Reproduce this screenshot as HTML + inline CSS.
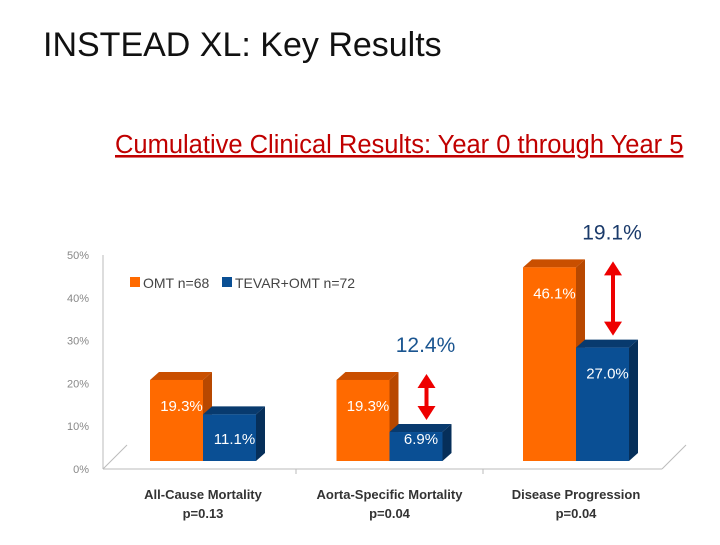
<!DOCTYPE html>
<html><head><meta charset="utf-8"><style>
body{margin:0;background:#fff;width:720px;height:540px;overflow:hidden;font-family:"Liberation Sans",sans-serif}
</style></head><body>
<svg width="720" height="540" viewBox="0 0 720 540" xmlns="http://www.w3.org/2000/svg">
<text x="43" y="56" font-size="34" fill="#111">INSTEAD XL:  Key Results</text>
<text x="115" y="153" font-size="25.5" fill="#c00000" text-decoration="underline">Cumulative Clinical Results: Year 0 through Year 5</text>
<g id="axes"></g>
<g id="bars"></g>
<g>
<rect x="130" y="277" width="10" height="10" fill="#ff6a00"/>
<text x="143" y="288" font-size="14" fill="#444">OMT n=68</text>
<rect x="222" y="277" width="10" height="10" fill="#0a4f94"/>
<text x="235" y="288" font-size="14" fill="#444">TEVAR+OMT n=72</text>
</g>
<g id="ann"></g>
</svg>
<script>
const categories=["All-Cause Mortality","Aorta-Specific Mortality","Disease Progression"];
const pvalues=["p=0.13","p=0.04","p=0.04"];
const omt=[19.3,19.3,46.1];
const tevar=[11.1,6.9,27.0];
const ticks=[0,10,20,30,40,50];
const diffs=[null,"12.4%","19.1%"];
const NS="http://www.w3.org/2000/svg";
const base=461, per=4.2, axisBase=469, axisPer=4.28;
const y=v=>base-v*per;
const gx=i=>203+i*186.5;
function mk(p,t,a){const e=document.createElementNS(NS,t);for(const k in a)e.setAttribute(k,a[k]);p.appendChild(e);return e;}
const ax=document.getElementById('axes'),bg=document.getElementById('bars'),an=document.getElementById('ann');
let l=mk(ax,'line',{x1:103,y1:255,x2:103,y2:469,stroke:'#bbb'});

l=mk(ax,'line',{x1:103,y1:469,x2:662,y2:469,stroke:'#bbb'});

mk(ax,'line',{x1:103,y1:469,x2:127,y2:445,stroke:'#bbb'});
mk(ax,'line',{x1:662,y1:469,x2:686,y2:445,stroke:'#bbb'});
ticks.forEach(t=>{const e=mk(ax,'text',{x:89,y:axisBase-t*axisPer+4,'font-size':11,fill:'#888','text-anchor':'end'});e.textContent=t+'%';
});
[296,483].forEach(x=>mk(ax,'line',{x1:x,y1:469,x2:x,y2:474,stroke:'#bbb'}));
function bar(x,v,front,top,side,name){
 const t=y(v),w=53,d=9;
 mk(bg,'polygon',{points:`${x},${t} ${x+d},${t-8} ${x+w+d},${t-8} ${x+w},${t}`,fill:top});
 mk(bg,'polygon',{points:`${x+w},${t} ${x+w+d},${t-8} ${x+w+d},${base-8} ${x+w},${base}`,fill:side});
 const r=mk(bg,'rect',{x:x,y:t,width:w,height:base-t,fill:front});
 
 const tx=mk(bg,'text',{x:x+w/2+5,y:Math.min(t+31,444),'font-size':15,fill:'#fff','text-anchor':'middle'});tx.textContent=v.toFixed(1)+'%';
 
}
categories.forEach((c,i)=>{
 const cx=gx(i);
 bar(cx-53,omt[i],'#ff6a00','#c94f00','#b84800','bar-omt');
 bar(cx,tevar[i],'#0a4f94','#083a6e','#062f5a','bar-tevar');
 let e=mk(ax,'text',{x:cx,y:499,'font-size':13,'font-weight':'bold',fill:'#333','text-anchor':'middle'});e.textContent=c;
 
 e=mk(ax,'text',{x:cx,y:518,'font-size':13,'font-weight':'bold',fill:'#333','text-anchor':'middle'});e.textContent=pvalues[i];
 
 if(diffs[i]){
  const ax2=cx+37,y1=y(omt[i])-6,y2=y(tevar[i])-12;
  mk(an,'line',{x1:ax2,y1:y1+10,x2:ax2,y2:y2-10,stroke:'#e00',"stroke-width":4});
  mk(an,'polygon',{points:`${ax2-9},${y1+14} ${ax2},${y1} ${ax2+9},${y1+14}`,fill:'#e00'});
  mk(an,'polygon',{points:`${ax2-9},${y2-14} ${ax2},${y2} ${ax2+9},${y2-14}`,fill:'#e00'});
  const t=mk(an,'text',{x:ax2-1,y:y1-22,'font-size':21,fill:i==1?'#1a5590':'#1a3a6a','text-anchor':'middle'});t.textContent=diffs[i];
  
 }
});
</script>
</body></html>
